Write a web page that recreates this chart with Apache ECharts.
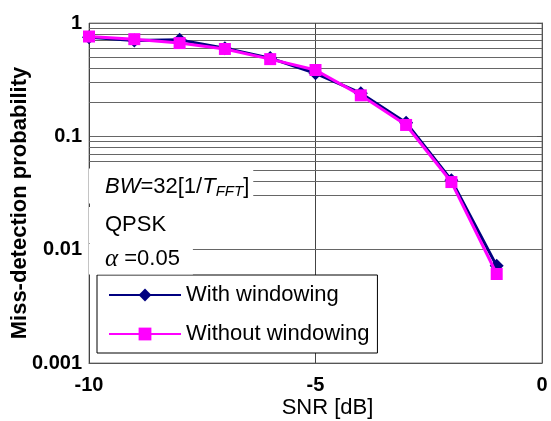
<!DOCTYPE html>
<html>
<head>
<meta charset="utf-8">
<script src="https://cdn.jsdelivr.net/npm/echarts@6/dist/echarts.min.js"></script>
<style>html,body{margin:0;padding:0;background:#fff}#c{width:551px;height:421px}</style>
</head>
<body>
<div id="c"></div>
<script>
const snr = [-10, -9, -8, -7, -6, -5, -4, -3, -2, -1];
const withWindowing = [0.75, 0.70, 0.71, 0.60, 0.49, 0.36, 0.24, 0.132, 0.041, 0.0072];
const withoutWindowing = [0.76, 0.72, 0.665, 0.59, 0.48, 0.385, 0.23, 0.126, 0.0395, 0.0061];
const xTickLabels = ['-10', '-5', '0'];
const yTickLabels = ['0.001', '0.01', '0.1', '1'];
const seriesNames = ['With windowing', 'Without windowing'];
// horizontal minor grid lines visible in the picture (the 0.02 line is absent there)
const minorGridValues = [0.002, 0.003, 0.004, 0.005, 0.006, 0.007, 0.008, 0.009,
                         0.03, 0.04, 0.05, 0.06, 0.07, 0.08, 0.09,
                         0.2, 0.3, 0.4, 0.5, 0.6, 0.7, 0.8, 0.9];

const FONT = '"Liberation Sans", Arial, sans-serif';
const chart = echarts.init(document.getElementById('c'), null, {renderer: 'canvas'});
chart.setOption({
  backgroundColor: '#fff',
  animation: false,
  grid: {left: 89, right: 9, top: 23, bottom: 58, show: true, borderColor: '#888', borderWidth: 1,
         containLabel: false, outerBoundsMode: 'none'},
  xAxis: {
    type: 'value', min: -10, max: 0, interval: 5,
    name: 'SNR [dB]', nameLocation: 'middle', nameGap: 34, nameMoveOverlap: false,
    nameTextStyle: {fontFamily: FONT, fontSize: 22, color: '#000', padding: [0, 0, 0, 24]},
    axisLine: {lineStyle: {color: '#555'}},
    axisTick: {show: false},
    axisLabel: {fontFamily: FONT, fontSize: 20, fontWeight: 'bold', color: '#000', margin: 12,
      formatter: v => xTickLabels[Math.round((v + 10) / 5)]},
    splitLine: {show: true, lineStyle: {color: '#444', width: 1}}
  },
  yAxis: {
    type: 'log', logBase: 10, min: 0.001, max: 1,
    name: 'Miss-detection probability', nameLocation: 'middle', nameGap: 58, nameMoveOverlap: false,
    nameTextStyle: {fontFamily: FONT, fontSize: 22, fontWeight: 'bold', color: '#000', padding: [0, 20, 0, 0]},
    axisLine: {show: true, lineStyle: {color: '#555'}},
    axisTick: {show: true, inside: false, length: 5, lineStyle: {color: '#555'}},
    axisLabel: {fontFamily: FONT, fontSize: 20, fontWeight: 'bold', color: '#000', margin: 7,
      formatter: v => yTickLabels[Math.round(Math.log10(v) + 3)]},
    splitLine: {show: true, lineStyle: {color: '#666', width: 1}}
  },
  legend: {
    orient: 'vertical', left: 97, top: 275,
    padding: [9, 8, 8, 11],
    itemWidth: 72, itemHeight: 16, itemGap: 17,
    backgroundColor: '#fff', borderColor: '#000', borderWidth: 1, borderRadius: 0,
    lineStyle: {width: 2},
    textStyle: {fontFamily: FONT, fontSize: 22, color: '#000'},
    data: seriesNames
  },
  title: [
    {left: 89, top: 168, padding: [6, 4, 4, 16], backgroundColor: '#fff',
     text: '{i|BW}{n|=32[1/}{i|T}{s|FFT}{n|]}',
     textStyle: {rich: {
       n: {fontFamily: FONT, fontSize: 22, fontWeight: 'normal', color: '#000', lineHeight: 26},
       i: {fontFamily: FONT, fontSize: 22, fontWeight: 'normal', fontStyle: 'italic', color: '#000', lineHeight: 26},
       s: {fontFamily: FONT, fontSize: 15, fontWeight: 'normal', fontStyle: 'italic', color: '#000', lineHeight: 26, padding: [10, 0, 0, 0]}
     }}},
    {left: 89, top: 207, padding: [7, 9, 7, 16], backgroundColor: '#fff',
     text: 'QPSK', textStyle: {fontFamily: FONT, fontSize: 22, fontWeight: 'normal', color: '#000'}},
    {left: 89, top: 243, padding: [3, 13, 3, 16], backgroundColor: '#fff',
     text: '{a|α}{n| =0.05}',
     textStyle: {rich: {
       a: {fontFamily: '"Liberation Serif", serif', fontSize: 25, fontWeight: 'normal', fontStyle: 'italic', color: '#000', lineHeight: 26},
       n: {fontFamily: FONT, fontSize: 22, fontWeight: 'normal', color: '#000', lineHeight: 26}
     }}}
  ],
  series: [
    {
      name: 'grid', type: 'line', data: [], z: 1, silent: true,
      markLine: {
        silent: true, symbol: ['none', 'none'], z: 1, animation: false,
        label: {show: false},
        lineStyle: {color: '#666', width: 1, type: 'solid'},
        emphasis: {disabled: true},
        data: minorGridValues.map(v => ({yAxis: v}))
      }
    },
    {
      name: seriesNames[0], type: 'line', z: 3,
      data: snr.map((x, i) => [x, withWindowing[i]]),
      symbol: 'diamond', symbolSize: 14,
      lineStyle: {color: '#000080', width: 3},
      itemStyle: {color: '#000080'}
    },
    {
      name: seriesNames[1], type: 'line', z: 4,
      data: snr.map((x, i) => [x, withoutWindowing[i]]),
      symbol: 'rect', symbolSize: 12,
      lineStyle: {color: '#ff00ff', width: 3},
      itemStyle: {color: '#ff00ff'}
    }
  ]
});
</script>
</body>
</html>
